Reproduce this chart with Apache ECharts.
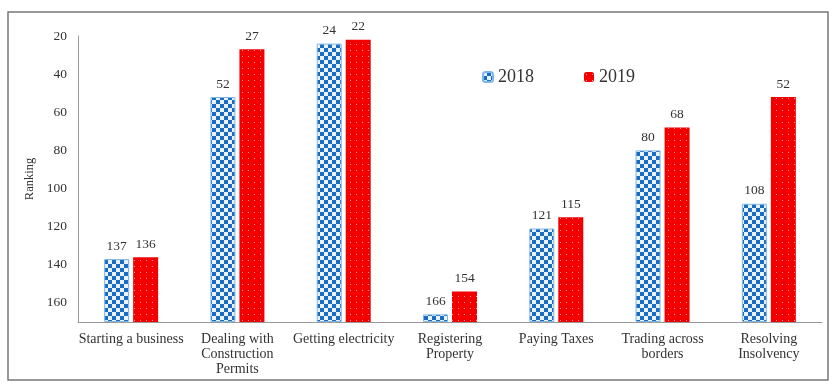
<!DOCTYPE html>
<html>
<head>
<meta charset="utf-8">
<script src="https://cdn.jsdelivr.net/npm/echarts@6/dist/echarts.min.js"></script>
<style>
  html, body { margin: 0; padding: 0; background: #fff; }
  #main { width: 832px; height: 385px; }
</style>
</head>
<body>
<div id="main"></div>
<script>
// doing business ranking by indicator (lower = better, so the axis is inverted)
const categories = [
  'Starting a business',
  'Dealing with\nConstruction\nPermits',
  'Getting electricity',
  'Registering\nProperty',
  'Paying Taxes',
  'Trading across\nborders',
  'Resolving\nInsolvency'
];
const rank2018 = [137, 52, 24, 166, 121, 80, 108];
const rank2019 = [136, 27, 22, 154, 115, 68, 52];
const yTicks = [20, 40, 60, 80, 100, 120, 140, 160];

// checkerboard fill for 2018
function checkerPattern() {
  const c = document.createElement('canvas');
  c.width = 8; c.height = 8;
  const g = c.getContext('2d');
  g.fillStyle = '#1a6cc2';
  g.fillRect(0, 0, 8, 8);
  g.fillStyle = '#e8f3ff';
  g.fillRect(0, 0, 4, 4);
  g.fillRect(4, 4, 4, 4);
  return c;
}
// red with small light dots for 2019
function dotPattern() {
  const c = document.createElement('canvas');
  c.width = 6; c.height = 6;
  const g = c.getContext('2d');
  g.fillStyle = '#f20000';
  g.fillRect(0, 0, 6, 6);
  g.fillStyle = '#ff9a9a';
  g.fillRect(2, 2, 1, 1);
  return c;
}

const chart = echarts.init(document.getElementById('main'));
const labelStyle = {
  show: true,
  position: 'top',
  distance: 6,
  fontFamily: 'Liberation Serif',
  fontSize: 13.5,
  color: '#333'
};

chart.setOption({
  animation: false,
  grid: { left: 78, right: 10, top: 36, bottom: 63 },
  legend: {
    data: ['2018', '2019'],
    left: 477,
    top: 63,
    itemWidth: 10,
    itemHeight: 10,
    itemGap: 50,
    textStyle: { fontFamily: 'Liberation Serif', fontSize: 18, color: '#333' }
  },
  graphic: [{
    type: 'rect',
    shape: { x: 8, y: 12, width: 820, height: 368 },
    style: { fill: 'none', stroke: '#777', lineWidth: 1.5 },
    silent: true
  }],
  xAxis: {
    type: 'category',
    data: categories,
    axisTick: { show: false },
    axisLine: { lineStyle: { color: '#999' } },
    axisLabel: {
      interval: 0,
      margin: 10,
      fontFamily: 'Liberation Serif',
      fontSize: 14,
      lineHeight: 15,
      color: '#333'
    }
  },
  yAxis: {
    type: 'value',
    inverse: true,
    min: 20,
    max: 170,
    interval: 20,
    startValue: 170,
    name: 'Ranking',
    nameLocation: 'middle',
    nameGap: 40,
    nameTextStyle: { fontFamily: 'Liberation Serif', fontSize: 12.5, color: '#333' },
    splitLine: { show: false },
    axisTick: { show: false },
    axisLine: { show: true, lineStyle: { color: '#999' } },
    axisLabel: {
      margin: 11,
      fontFamily: 'Liberation Serif',
      fontSize: 13.5,
      color: '#333',
      formatter: v => (yTicks.indexOf(v) >= 0 ? String(v) : '')
    }
  },
  series: [
    {
      name: '2018',
      type: 'bar',
      data: rank2018,
      barWidth: 25,
      barGap: '16%',
      itemStyle: {
        color: { image: checkerPattern(), repeat: 'repeat' },
        borderColor: '#7fb6ea',
        borderWidth: 1
      },
      label: labelStyle
    },
    {
      name: '2019',
      type: 'bar',
      data: rank2019,
      barWidth: 25,
      itemStyle: { color: { image: dotPattern(), repeat: 'repeat' } },
      label: labelStyle
    }
  ]
});
</script>
</body>
</html>
